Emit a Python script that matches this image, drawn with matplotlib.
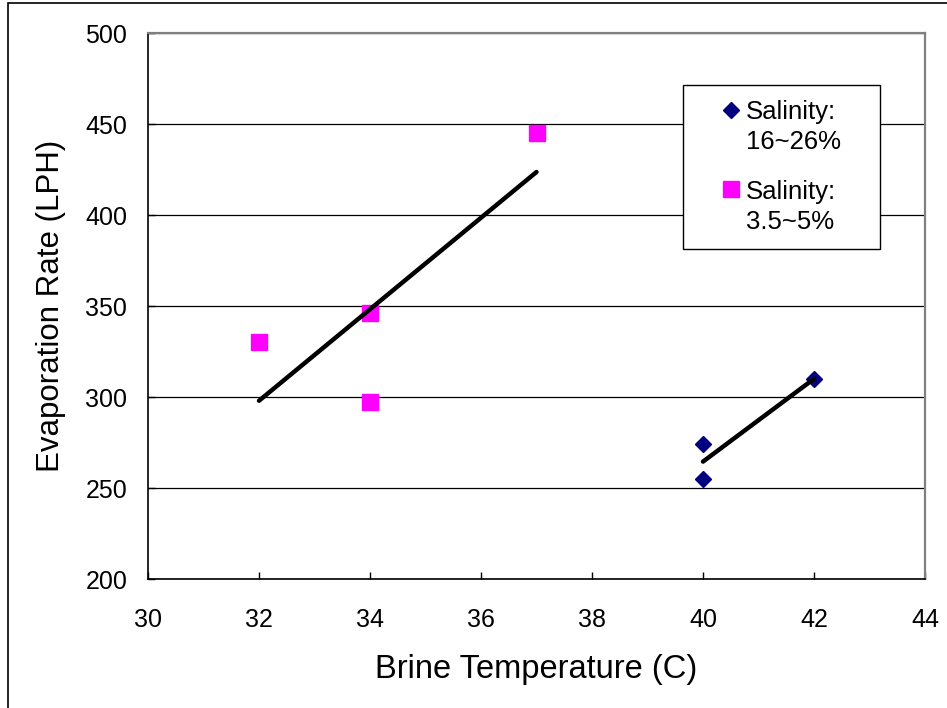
import numpy as np
import matplotlib
matplotlib.use("Agg")
import matplotlib.pyplot as plt
from matplotlib.patches import Rectangle

plt.rcParams['font.family'] = ['Liberation Sans', 'DejaVu Sans']

# Data
high_sal_temp = [40, 40, 42]
high_sal_rate = [274, 255, 310]
low_sal_temp = [32, 34, 34, 37]
low_sal_rate = [330, 346, 297, 445]

labels = ["Salinity:\n16~26%", "Salinity:\n3.5~5%"]
x_ticks = [30, 32, 34, 36, 38, 40, 42, 44]
y_ticks = [200, 250, 300, 350, 400, 450, 500]

fig = plt.figure(figsize=(9.47, 7.08), dpi=100)
ax = fig.add_axes([148/947, 1-579/708, (925-148)/947, (579-33)/708])

# outer frame (chart area border)
fig.patches.append(Rectangle((8/947, -0.05), 1.2, (708-3)/708 + 0.05,
                             transform=fig.transFigure, fill=False,
                             edgecolor='black', linewidth=1.2))

h1, = ax.plot(high_sal_temp, high_sal_rate, linestyle='none', marker='D',
              markersize=8.0, color='#000080', zorder=3)
h2, = ax.plot(low_sal_temp, low_sal_rate, linestyle='none', marker='s',
              markersize=11, color='#FF00FF', zorder=3)

# linear trend lines
for xs, ys in [(high_sal_temp, high_sal_rate), (low_sal_temp, low_sal_rate)]:
    k, b = np.polyfit(xs, ys, 1)
    xr = np.array([min(xs), max(xs)])
    ax.plot(xr, k*xr + b, color='black', linewidth=3.2, zorder=4,
            solid_capstyle='round')

ax.set_xlim(30, 44)
ax.set_ylim(200, 500)
ax.set_xticks(x_ticks)
ax.set_yticks(y_ticks)
ax.yaxis.grid(True, color='black', linewidth=0.9)
ax.set_axisbelow(True)

ax.tick_params(axis='both', direction='in', length=5, width=1, labelsize=18)
ax.tick_params(axis='y', pad=15)
ax.tick_params(axis='x', pad=21)

for s in ['top', 'right']:
    ax.spines[s].set_color('#808080')
    ax.spines[s].set_linewidth(1.6)
for s in ['left', 'bottom']:
    ax.spines[s].set_color('black')
    ax.spines[s].set_linewidth(1.2)

ax.set_xlabel('Brine Temperature (C)', fontsize=23.5, labelpad=16)
ax.set_ylabel('Evaporation Rate (LPH)', fontsize=22.5, labelpad=14)

bx0 = (683-148)/(925-148)
by1 = (579-85)/(579-33)
bw = (880-683)/(925-148)
bh = (247-85)/(579-33)
leg = ax.legend([h1, h2], labels, loc='upper left',
                bbox_to_anchor=(bx0, by1-bh, bw, bh), mode='expand',
                fontsize=18.5, frameon=True, fancybox=False, shadow=False,
                edgecolor='black', framealpha=1, borderpad=0.6,
                handlelength=2.5, handletextpad=-0.65, labelspacing=1.0,
                borderaxespad=0, numpoints=1)
leg.get_frame().set_linewidth(1.0)
for t in leg.get_texts():
    t.set_linespacing(1.3)
# put each marker level with the first line of its label
for hd in leg.legend_handles:
    yd = np.asarray(hd.get_ydata(), dtype=float)
    hd.set_ydata(yd + 13.0)

fig.savefig('out.png', dpi=100)
